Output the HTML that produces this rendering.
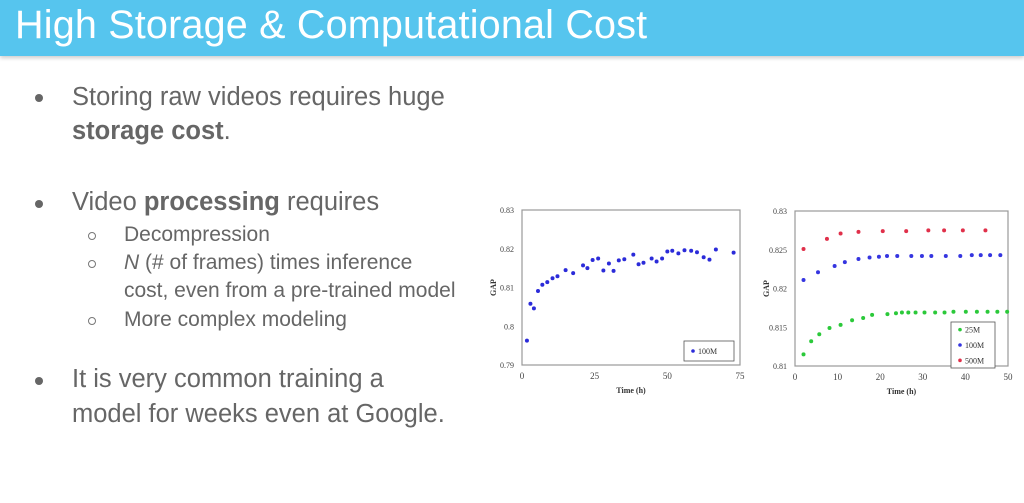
<!DOCTYPE html>
<html><head><meta charset="utf-8"><style>
body{margin:0;width:1024px;height:503px;overflow:hidden;background:#fff;font-family:"Liberation Sans",sans-serif;position:relative}
#hdr{position:absolute;left:0;top:0;width:1024px;height:56px;background:#56c5ee;box-shadow:0 2px 4px rgba(0,0,0,.2)}
#hdr h1{margin:0;position:absolute;left:15px;top:3px;font-weight:normal;color:#fff;font-size:39.5px;letter-spacing:0.2px}
.t{position:absolute;color:#666;font-size:25.5px;white-space:nowrap}
.s{position:absolute;color:#666;font-size:21px;white-space:nowrap}
.b{position:absolute;width:8px;height:8px;border-radius:50%;background:#666}
.o{position:absolute;width:6px;height:6px;border-radius:50%;border:1px solid #777}
</style></head><body>
<div id="hdr"><h1>High Storage &amp; Computational Cost</h1></div>
<div class="b" style="left:35px;top:94px"></div>
<div class="t" style="left:72px;top:83px">Storing raw videos requires huge</div>
<div class="t" style="left:72px;top:117px"><b>storage cost</b>.</div>
<div class="b" style="left:35px;top:200px"></div>
<div class="t" style="left:72px;top:188px">Video <b>processing</b> requires</div>
<div class="o" style="left:88px;top:232px"></div>
<div class="s" style="left:124px;top:223px">Decompression</div>
<div class="o" style="left:88px;top:260px"></div>
<div class="s" style="left:124px;top:251px"><i>N</i> (# of frames) times inference</div>
<div class="s" style="left:124px;top:279px">cost, even from a pre-trained model</div>
<div class="o" style="left:88px;top:317px"></div>
<div class="s" style="left:124px;top:308px">More complex modeling</div>
<div class="b" style="left:35px;top:377px"></div>
<div class="t" style="left:72px;top:365px">It is very common training a</div>
<div class="t" style="left:72px;top:400px">model for weeks even at Google.</div>
<svg id="c" width="1024" height="503" style="position:absolute;left:0;top:0"></svg>
<script>
const t1=[1.7,2.9,4.1,5.5,7,8.7,10.5,12.2,15,17.6,21,22.5,24.3,26.2,28,29.9,31.5,33.3,35.2,38.3,40.1,41.8,44.6,46.3,48.2,50,51.7,53.8,55.9,58.2,60.2,62.5,64.5,66.7,72.8];
const g1=[0.7963,0.8058,0.8046,0.8091,0.8107,0.8114,0.8124,0.8129,0.8145,0.8137,0.8157,0.815,0.8171,0.8175,0.8144,0.8162,0.8143,0.817,0.8173,0.8185,0.816,0.8164,0.8175,0.8167,0.8175,0.8193,0.8195,0.8188,0.8196,0.8195,0.8191,0.8178,0.8172,0.8198,0.819];
const t500=[2,7.5,10.7,14.9,20.6,26.1,31.3,35,39.4,44.7];
const g500=[0.8251,0.8264,0.8271,0.8273,0.8274,0.8274,0.8275,0.8275,0.8275,0.8275];
const t100=[2,5.4,9.3,11.7,14.9,17.5,19.7,21.6,24,27.3,29.8,32,35.4,38.8,41.5,43.6,45.8,48.2];
const g100=[0.8211,0.8221,0.8229,0.8234,0.8238,0.824,0.8241,0.8242,0.8242,0.8242,0.8242,0.8242,0.8242,0.8242,0.8243,0.8243,0.8243,0.8243];
const t25=[2,3.8,5.7,8.1,10.7,13.4,16,18.1,21.7,23.7,25.1,26.6,28.3,30.4,32.9,35.1,37.2,40.1,42.7,45.2,47.5,49.8];
const g25=[0.8115,0.8132,0.8141,0.8149,0.8153,0.8159,0.8162,0.8166,0.8167,0.8168,0.8169,0.8169,0.8169,0.8169,0.8169,0.8169,0.817,0.817,0.817,0.817,0.817,0.817];
const xt1=[0,25,50,75], yt1=["0.79","0.8","0.81","0.82","0.83"];
const xt2=[0,10,20,30,40,50], yt2=["0.81","0.815","0.82","0.825","0.83"];
const svg=document.getElementById('c');const NS='http://www.w3.org/2000/svg';
function el(tag,a,txt){const e=document.createElementNS(NS,tag);for(const k in a)e.setAttribute(k,a[k]);if(txt!=null)e.textContent=txt;svg.appendChild(e);return e;}
function chart(L,R,T,B,xmax,ymin,ymax,xt,yt,series,legend,lg){
  const X=v=>L+(v/xmax)*(R-L), Y=v=>B-(v-ymin)/(ymax-ymin)*(B-T);
  const f=el('rect',{x:L,y:T,width:R-L,height:B-T,fill:'none',stroke:'#999','stroke-width':1.2});
  
  xt.forEach(v=>{const t=el('text',{x:X(v),y:B+14,'font-size':9,'text-anchor':'middle',fill:'#444','font-family':'Liberation Serif,serif'},v);
    });
  yt.forEach(s=>{const t=el('text',{x:L-8,y:Y(+s)+3,'font-size':8,'text-anchor':'end',fill:'#444','font-family':'Liberation Serif,serif'},s);
    });
  const xl=el('text',{x:(L+R)/2,y:B+28,'font-size':8,'font-weight':'bold','text-anchor':'middle',fill:'#333','font-family':'Liberation Serif,serif'},'Time (h)');
  
  const yl=el('text',{x:0,y:0,'font-size':8,'font-weight':'bold','text-anchor':'middle',fill:'#333','font-family':'Liberation Serif,serif',transform:`translate(${L-26},${(T+B)/2}) rotate(-90)`},'GAP');
  
  series.forEach(s=>{s.t.forEach((tv,i)=>{const c=el('circle',{cx:X(tv),cy:Y(s.g[i]),r:2,fill:s.c});
    });});
  const lb=el('rect',{x:lg[0],y:lg[1],width:lg[2],height:lg[3],fill:'#fff',stroke:'#555','stroke-width':0.8});
  
  series.forEach((s,i)=>{const yy=lg[1]+lg[3]/(series.length)*(i+0.5);
    const c=el('circle',{cx:lg[0]+9,cy:yy,r:1.8,fill:s.c});
    const t=el('text',{x:lg[0]+14,y:yy+3,'font-size':8,fill:'#333','font-family':'Liberation Serif,serif'},s.n);
    });
}
chart(522,740,210,365,75,0.79,0.83,xt1,yt1,[{n:'100M',t:t1,g:g1,c:'#2b2bd9'}],0,[684,341,50,20]);
chart(795,1008,211,366,50,0.81,0.83,xt2,yt2,[{n:'25M',t:t25,g:g25,c:'#2bc93a'},{n:'100M',t:t100,g:g100,c:'#3535e0'},{n:'500M',t:t500,g:g500,c:'#e0304a'}],0,[951,322,44,46]);
</script>
</body></html>
